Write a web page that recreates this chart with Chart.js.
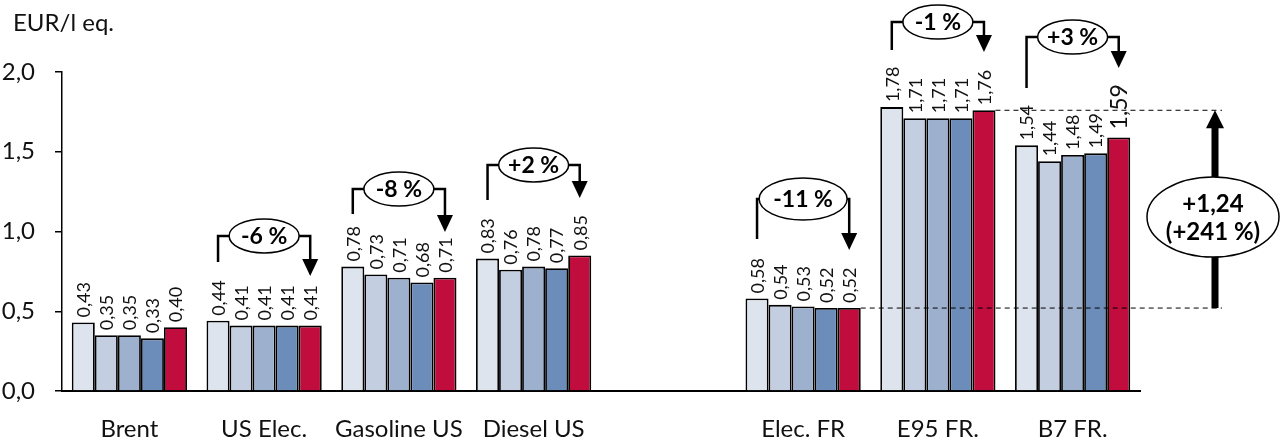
<!DOCTYPE html>
<html>
<head>
<meta charset="utf-8">
<script src="https://cdn.jsdelivr.net/npm/chart.js@4.4.1/dist/chart.umd.min.js"></script>
<style>
html,body{margin:0;padding:0;background:#fff;overflow:hidden;}
canvas{display:block;}
</style>
</head>
<body>
<canvas id="c" width="1281" height="442"></canvas>
<script>
const categories = ['Brent', 'US Elec.', 'Gasoline US', 'Diesel US', '', 'Elec. FR', 'E95 FR.', 'B7 FR.'];
const series1 = [0.43, 0.44, 0.78, 0.83, null, 0.58, 1.78, 1.54];
const series2 = [0.35, 0.41, 0.73, 0.76, null, 0.54, 1.71, 1.44];
const series3 = [0.35, 0.41, 0.71, 0.78, null, 0.53, 1.71, 1.48];
const series4 = [0.33, 0.41, 0.68, 0.77, null, 0.52, 1.71, 1.49];
const series5 = [0.40, 0.41, 0.71, 0.85, null, 0.52, 1.76, 1.59];
const yTicks = [0, 0.5, 1.0, 1.5, 2.0];
const unitLabel = 'EUR/l eq.';

// bracket annotations: category index, text, levels in data units
const bracketCats = [1, 2, 3, 5, 6, 7];
const bracketTexts = ['-6 %', '-8 %', '+2 %', '-11 %', '-1 %', '+3 %'];
const bracketLineLevels = [0.972, 1.266, 1.417, 1.204, 2.313, 2.219];
const bracketLeftLevels = [0.809, 1.11, 1.197, 0.953, 2.138, 1.90];
const bracketTipLevels = [0.721, 0.997, 1.21, 0.884, 2.125, 2.025];
const diffTexts = ['+1,24', '(+241 %)'];

const colors = ['#DEE4EE', '#C3CEE0', '#9DB1CF', '#6C8DBA', '#C00D3D'];
const FONT = 'Lato, "Open Sans", sans-serif';

const fmt = v => v.toFixed(2).replace('.', ',');

const overlay = {
  id: 'overlay',
  afterDatasetsDraw(chart) {
    const ctx = chart.ctx;
    ctx.save();
    chart.data.datasets.forEach((ds, di) => {
      const meta = chart.getDatasetMeta(di);
      meta.data.forEach((bar, i) => {
        const v = ds.data[i];
        if (v == null) return;
        const big = (di === 4 && i === 7);
        ctx.save();
        ctx.translate(bar.x, bar.y - (big ? 8 : 5));
        ctx.rotate(-Math.PI / 2);
        ctx.font = (big ? '23px ' : '18px ') + FONT;
        ctx.fillStyle = '#111';
        ctx.textAlign = 'left';
        ctx.textBaseline = 'middle';
        ctx.fillText(fmt(v), 0, 1);
        ctx.restore();
      });
    });
    ctx.restore();
  },
  afterDraw(chart) {
    const ctx = chart.ctx;
    const ys = chart.scales.y;
    ctx.save();
    // unit label
    ctx.font = '24px ' + FONT;
    ctx.fillStyle = '#111';
    ctx.textBaseline = 'middle';
    ctx.textAlign = 'left';
    ctx.fillText(unitLabel, 13, 23);

    const m0 = chart.getDatasetMeta(0);
    const m4 = chart.getDatasetMeta(4);
    // brackets
    bracketCats.forEach((c, k) => {
      const xl = m0.data[c].x;
      const xr = m4.data[c].x;
      const xc = (xl + xr) / 2;
      const yl = ys.getPixelForValue(bracketLineLevels[k]);
      const yb = ys.getPixelForValue(bracketLeftLevels[k]);
      const yt = ys.getPixelForValue(bracketTipLevels[k]);
      ctx.strokeStyle = '#000';
      ctx.lineWidth = 2.5;
      ctx.beginPath();
      ctx.moveTo(xl, yb);
      ctx.lineTo(xl, yl);
      ctx.lineTo(xr, yl);
      ctx.lineTo(xr, yt - 16);
      ctx.stroke();
      ctx.fillStyle = '#000';
      ctx.beginPath();
      ctx.moveTo(xr - 8, yt - 17);
      ctx.lineTo(xr + 8, yt - 17);
      ctx.lineTo(xr, yt);
      ctx.closePath();
      ctx.fill();
      const wide = bracketTexts[k].length > 4;
      const rx = wide ? 44 : 35, ry = wide ? 21 : 17;
      ctx.beginPath();
      ctx.ellipse(xc, yl, rx, ry, 0, 0, Math.PI * 2);
      ctx.fillStyle = '#fff';
      ctx.fill();
      ctx.lineWidth = 1.5;
      ctx.stroke();
      ctx.fillStyle = '#000';
      ctx.font = 'bold 23px ' + FONT;
      ctx.textAlign = 'center';
      ctx.textBaseline = 'middle';
      ctx.fillText(bracketTexts[k], xc, yl + 1);
    });

    // difference arrow between Elec. FR and E95 FR. last bars
    const lowBar = m4.data[5];
    const highBar = m4.data[6];
    const yLow = lowBar.y;
    const yHigh = highBar.y;
    const xEnd = 1222;
    const xa = 1215;
    ctx.strokeStyle = '#000';
    ctx.lineWidth = 1;
    ctx.setLineDash([5, 4]);
    ctx.beginPath();
    ctx.moveTo(lowBar.x + lowBar.width / 2, yLow);
    ctx.lineTo(xEnd, yLow);
    ctx.moveTo(highBar.x + highBar.width / 2, yHigh);
    ctx.lineTo(xEnd, yHigh);
    ctx.stroke();
    ctx.setLineDash([]);
    ctx.lineWidth = 7;
    ctx.beginPath();
    ctx.moveTo(xa, yLow);
    ctx.lineTo(xa, yHigh + 16);
    ctx.stroke();
    ctx.fillStyle = '#000';
    ctx.beginPath();
    ctx.moveTo(xa - 9, yHigh + 18);
    ctx.lineTo(xa + 9, yHigh + 18);
    ctx.lineTo(xa, yHigh);
    ctx.closePath();
    ctx.fill();
    const ey = 217;
    ctx.beginPath();
    ctx.ellipse(1213, ey, 66, 40, 0, 0, Math.PI * 2);
    ctx.fillStyle = '#fff';
    ctx.fill();
    ctx.lineWidth = 1.5;
    ctx.stroke();
    ctx.fillStyle = '#000';
    ctx.font = 'bold 24px ' + FONT;
    ctx.textAlign = 'center';
    ctx.textBaseline = 'middle';
    ctx.fillText(diffTexts[0], 1213, ey - 13);
    ctx.fillText(diffTexts[1], 1213, ey + 15);
    ctx.restore();
  }
};

const allSeries = [series1, series2, series3, series4, series5];
new Chart(document.getElementById('c'), {
  type: 'bar',
  data: {
    labels: categories,
    datasets: allSeries.map((s, i) => ({
      data: s,
      backgroundColor: colors[i],
      borderColor: '#000',
      borderWidth: 1.8,
      borderSkipped: 'bottom',
      categoryPercentage: 0.855,
      barPercentage: 1.0
    }))
  },
  options: {
    responsive: false,
    animation: false,
    devicePixelRatio: 1,
    layout: { padding: { top: 72, right: 141, left: 0, bottom: 0 } },
    plugins: { legend: { display: false }, tooltip: { enabled: false } },
    scales: {
      x: {
        grid: { display: false, drawTicks: false },
        border: { display: true, color: '#000', width: 2 },
        ticks: { font: { family: FONT, size: 24 }, color: '#111', padding: 24, maxRotation: 0, autoSkip: false },
        afterFit(s) { s.height = 51; }
      },
      y: {
        min: 0, max: 2,
        afterBuildTicks(s) { s.ticks = yTicks.map(v => ({ value: v })); },
        grid: { drawOnChartArea: false, drawTicks: true, tickLength: 7, color: '#000', lineWidth: 1.5 },
        border: { display: true, color: '#000', width: 1.5 },
        ticks: { font: { family: FONT, size: 24 }, color: '#111', padding: 20,
          callback: v => v.toFixed(1).replace('.', ',') },
        afterFit(s) { s.width = 62; }
      }
    }
  },
  plugins: [overlay]
});
</script>
</body>
</html>
